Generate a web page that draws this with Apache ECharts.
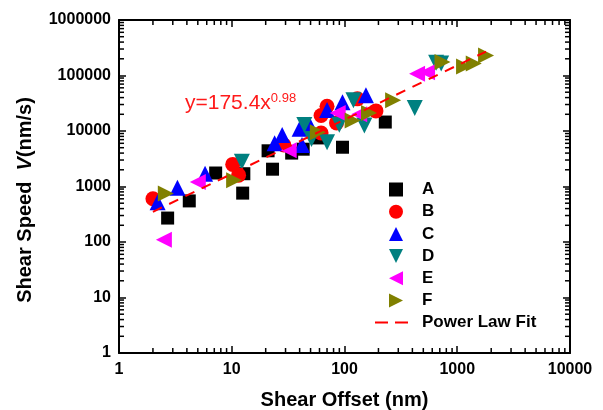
<!DOCTYPE html>
<html>
<head>
<meta charset="utf-8">
<style>
  html, body { margin: 0; padding: 0; background: #fff; }
  #chart { width: 603px; height: 410px; }
</style>
<script src="https://cdn.jsdelivr.net/npm/echarts@6/dist/echarts.min.js"></script>
</head>
<body>
<div id="chart"></div>
<script>
// shear offset (nm), shear speed (nm/s)
const seriesA = [[2.7, 270], [4.2, 550], [7.2, 1750], [12.8, 1700], [12.5, 760], [21, 4400], [23, 2050], [34, 4000], [43, 4700], [58, 7500], [96, 5100], [230, 14500]];
const seriesB = [[2.0, 600], [10.2, 2500], [11.5, 1600], [29, 5600], [45, 11000], [62, 19000], [62, 9200], [70, 28000], [85, 14000], [130, 38000], [190, 23000]];
const seriesC = [[2.2, 520], [3.3, 950], [5.8, 1700], [24, 6000], [28, 8500], [40, 11000], [42, 5600], [49, 13000], [70, 24000], [96, 33000], [155, 44000]];
const seriesD = [[12.3, 2800], [44, 12800], [51, 7200], [70, 6300], [90, 13000], [120, 36000], [150, 12500], [420, 26000], [650, 170000], [720, 165000]];
const seriesE = [[2.5, 110], [5, 1200], [32, 4500], [87, 21000], [135, 20000], [440, 108000], [540, 115000]];
const seriesF = [[2.6, 750], [10.5, 1300], [58, 9500], [118, 15500], [165, 21000], [270, 36000], [740, 175000], [1150, 145000], [1400, 165000], [1800, 230000]];
// y = 175.4 x^0.98, end points
const fitLine = [[2, 350], [1800, 270000]];

// log minor ticks (2..9 in every decade)
const minorMantissa = [2, 3, 4, 5, 6, 7, 8, 9];
const xDecades = [1, 10, 100, 1000];
const yDecades = [1, 10, 100, 1000, 10000, 100000];

const FONT = "Liberation Sans, Arial, sans-serif";
const X_MIN = 1, X_MAX = 10000, Y_MIN = 1, Y_MAX = 1000000;

const chart = echarts.init(document.getElementById("chart"));

const xMinor = [];
xDecades.forEach(d => minorMantissa.forEach(m => xMinor.push(m * d)));
const yMinor = [];
yDecades.forEach(d => minorMantissa.forEach(m => yMinor.push(m * d)));

function frameAxis(pos, showLabel, extra) {
  return Object.assign({
    type: "log",
    logBase: 10,
    position: pos,
    axisLine: { show: true, onZero: false, lineStyle: { color: "#000", width: 2 } },
    axisTick: { show: true, inside: true, length: 7, lineStyle: { color: "#000", width: 1.5 } },
    splitLine: { show: false },
    axisLabel: {
      show: showLabel,
      color: "#000",
      fontFamily: FONT,
      fontWeight: "bold",
      fontSize: 16,
      formatter: v => String(v)
    }
  }, extra);
}

const symbolSeries = (name, data, symbol, color, size) => ({
  name,
  type: "scatter",
  data,
  symbol,
  symbolSize: size,
  itemStyle: { color, opacity: 1 },
  z: 3
});

// small inward minor ticks drawn as thin rect marks on the frame
const tickMarks = (name, data, size, offset) => ({
  name,
  type: "scatter",
  data,
  symbol: "rect",
  symbolSize: size,
  symbolOffset: offset,
  itemStyle: { color: "#000", opacity: 1 },
  silent: true,
  clip: false,
  z: 6
});

chart.setOption({
  animation: false,
  grid: { left: 119, right: 33, top: 20, bottom: 57, containLabel: false, outerBoundsMode: "none" },
  xAxis: [
    frameAxis("bottom", true, {
      min: X_MIN, max: X_MAX,
      name: "Shear Offset (nm)",
      nameLocation: "middle",
      nameGap: 37,
      nameTextStyle: { color: "#000", fontFamily: FONT, fontWeight: "bold", fontSize: 20, verticalAlign: "top" },
      axisLabel: { color: "#000", fontFamily: FONT, fontWeight: "bold", fontSize: 16, margin: 9, formatter: v => String(v) }
    }),
    frameAxis("top", false, { min: X_MIN, max: X_MAX })
  ],
  yAxis: [
    frameAxis("left", true, {
      min: Y_MIN, max: Y_MAX,
      axisLabel: { color: "#000", fontFamily: FONT, fontWeight: "bold", fontSize: 16, margin: 8, formatter: v => String(v) }
    }),
    frameAxis("right", false, { min: Y_MIN, max: Y_MAX })
  ],
  legend: [
    {
      data: ["A", "B", "C", "D", "E", "F"],
      orient: "vertical",
      left: 389,
      top: 181,
      padding: 0,
      itemWidth: 14,
      itemHeight: 14,
      itemGap: 5.2,
      textStyle: { color: "#000", fontFamily: FONT, fontWeight: "bold", fontSize: 17, padding: [0, 0, 0, 14] }
    },
    {
      data: [{ name: "Power Law Fit", icon: "path://M0,6H13V8H0Z M20,6H33V8H20Z" }],
      orient: "vertical",
      left: 375,
      top: 314,
      padding: 0,
      itemWidth: 33,
      itemHeight: 14,
      itemStyle: { color: "#ff0000" },
      textStyle: { color: "#000", fontFamily: FONT, fontWeight: "bold", fontSize: 17, padding: [0, 0, 0, 9] }
    }
  ],
  graphic: [
    {
      type: "text",
      x: 25,
      y: 200,
      rotation: Math.PI / 2,
      style: {
        text: "Shear Speed  {i|V}(nm/s)",
        fill: "#000",
        font: "bold 20px " + FONT,
        align: "center",
        verticalAlign: "middle",
        rich: { i: { fontStyle: "italic", fontWeight: "bold", fontSize: 20, fontFamily: FONT, fill: "#000" } }
      }
    },
    {
      type: "text",
      left: 185,
      top: 92,
      style: {
        text: "y=175.4x{sup|0.98}",
        fill: "#ff1a1a",
        font: "21px " + FONT,
        rich: {
          sup: { fontSize: 13, fontFamily: FONT, fill: "#ff1a1a", verticalAlign: "top", padding: [0, 0, 10, 0] }
        }
      }
    }
  ],
  series: [
    symbolSeries("A", seriesA, "rect", "#000000", 13),
    symbolSeries("B", seriesB, "circle", "#ff0000", 15),
    symbolSeries("C", seriesC, "triangle", "#0000ff", 16),
    symbolSeries("D", seriesD, "path://M0,0L16,0L8,16Z", "#008080", 16),
    symbolSeries("E", seriesE, "path://M16,0L16,16L0,8Z", "#ff00ff", 16),
    symbolSeries("F", seriesF, "path://M0,0L16,8L0,16Z", "#808000", 16),
    {
      name: "Power Law Fit",
      type: "line",
      data: fitLine,
      showSymbol: false,
      symbol: "none",
      lineStyle: { color: "#ff0000", width: 2, type: [10, 8] },
      itemStyle: { color: "#ff0000" },
      z: 4
    },
    tickMarks("minorBottom", xMinor.map(v => [v, Y_MIN]), [1.5, 5], [0, -2.5]),
    tickMarks("minorTop", xMinor.map(v => [v, Y_MAX]), [1.5, 5], [0, 2.5]),
    tickMarks("minorLeft", yMinor.map(v => [X_MIN, v]), [5, 1.5], [2.5, 0]),
    tickMarks("minorRight", yMinor.map(v => [X_MAX, v]), [5, 1.5], [-2.5, 0])
  ]
});
</script>
</body>
</html>
